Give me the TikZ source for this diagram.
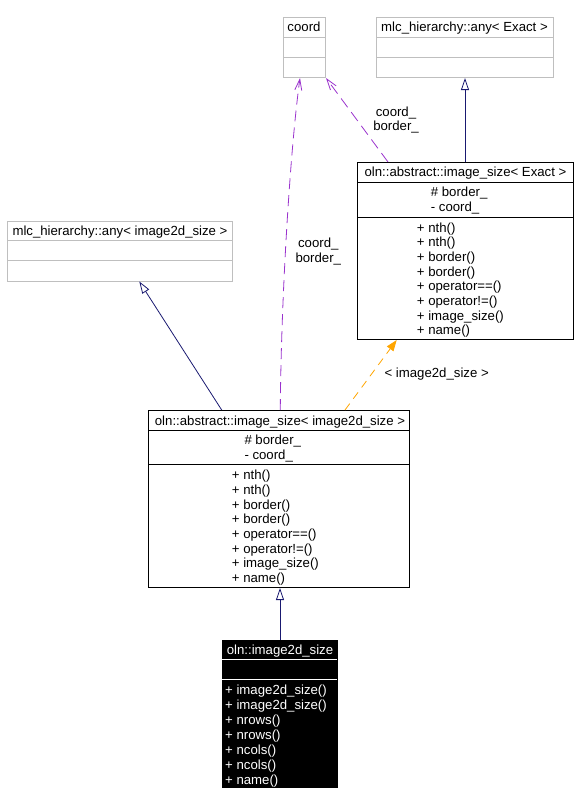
\documentclass[tikz,border=0pt]{standalone}
\usepackage{fontspec}
\setmainfont{Liberation Sans}
\usetikzlibrary{arrows.meta,calc}
\definecolor{gborder}{HTML}{BFBFBF}
\definecolor{navyc}{HTML}{191970}
\definecolor{purp}{HTML}{9A32CD}
\definecolor{orng}{HTML}{FFA500}
\tikzset{
  box/.style={draw, rectangle, anchor=north west, inner sep=0pt, line width=1pt},
  graybox/.style={box, draw=gborder},
  blackbox/.style={box, draw=black},
  darkbox/.style={box, fill=black, draw=black},
  txt/.style={inner sep=0pt, font=\fontsize{13.2}{14.6}\selectfont},
  ltxt/.style={txt, anchor=base west},
  ctxt/.style={txt, anchor=base},
  sepg/.style={draw=gborder, line width=1pt},
  sepk/.style={draw=black, line width=1pt},
  sepw/.style={draw=white, line width=1pt},
  inherit/.style={draw=navyc, line width=0.8pt, -{Triangle[open, length=12pt, width=8pt, fill=white]}},
  usage/.style={draw=purp, line width=0.8pt, dash pattern=on 11pt off 6pt, -{Straight Barb[length=11pt, width=7pt]}},
  templ/.style={draw=orng, line width=0.8pt, dash pattern=on 8pt off 6pt, -{Triangle[length=11pt, width=8pt]}},
}
\begin{document}
\begin{tikzpicture}[x=1pt,y=-1pt]
\useasboundingbox (0,0) rectangle (576,804);

% coord
\node[graybox, minimum width=42pt, minimum height=60pt] (coord) at (283,17) {};
\draw[sepg] (283,37) -- (325,37);
\draw[sepg] (283,57) -- (325,57);
\node[ctxt] (coordT) at (304,31.5) {coord};

% mlc_hierarchy::any< Exact >
\node[graybox, minimum width=177pt, minimum height=60pt] (anyE) at (376,17) {};
\draw[sepg] (376,37) -- (553,37);
\draw[sepg] (376,57) -- (553,57);
\node[ctxt] (anyET) at (464.5,31.5) {mlc\_hierarchy::any< Exact >};

% oln::abstract::image_size< Exact >
\node[blackbox, minimum width=216pt, minimum height=177pt] (isE) at (357,162) {};
\draw[sepk] (357,182) -- (573,182);
\draw[sepk] (357,217) -- (573,217);
\node[ctxt] (isET) at (465.5,176.5) {oln::abstract::image\_size< Exact >};
\foreach \t [count=\i] in {\# border\_, - coord\_}
  \node[ltxt] (isEa\i) at (430.7,{196.7+15*(\i-1)}) {\t};
\foreach \t [count=\i] in {+ nth(), + nth(), + border(), + border(), + operator==(), + operator!=(), + image\_size(), + name()}
  \node[ltxt] (isEm\i) at (416.7,{232.3+14.67*(\i-1)}) {\t};

% mlc_hierarchy::any< image2d_size >
\node[graybox, minimum width=225pt, minimum height=60pt] (any2d) at (7,220.5) {};
\draw[sepg] (7,240.5) -- (232,240.5);
\draw[sepg] (7,260.5) -- (232,260.5);
\node[ctxt] (any2dT) at (120,235.5) {mlc\_hierarchy::any< image2d\_size >};

% oln::abstract::image_size< image2d_size >
\node[blackbox, minimum width=261pt, minimum height=177pt] (is2d) at (148,410) {};
\draw[sepk] (148,430) -- (409,430);
\draw[sepk] (148,464.5) -- (409,464.5);
\node[ctxt] (is2dT) at (280,425) {oln::abstract::image\_size< image2d\_size >};
\foreach \t [count=\i] in {\# border\_, - coord\_}
  \node[ltxt] (is2da\i) at (244.3,{444.7+15*(\i-1)}) {\t};
\foreach \t [count=\i] in {+ nth(), + nth(), + border(), + border(), + operator==(), + operator!=(), + image\_size(), + name()}
  \node[ltxt] (is2dm\i) at (231.7,{479.7+14.7*(\i-1)}) {\t};

% oln::image2d_size
\node[darkbox, minimum width=115pt, minimum height=147pt] (i2d) at (222,640) {};
\draw[sepw] (222,659.5) -- (337,659.5);
\draw[sepw] (222,679.5) -- (337,679.5);
\node[ctxt, text=white] (i2dT) at (280,654.7) {oln::image2d\_size};
\foreach \t [count=\i] in {+ image2d\_size(), + image2d\_size(), + nrows(), + nrows(), + ncols(), + ncols(), + name()}
  \node[ltxt, text=white] (i2dm\i) at (225,{694+15*(\i-1)}) {\t};

% connectors
\draw[inherit] (i2d.north) -- (i2d.north |- is2d.south);
\draw[inherit] ($(is2d.north west)+(73.7,0)$) -- ($(any2d.south west)+(132.3,0)$);
\draw[inherit] (isE.north -| anyE.south) -- (anyE.south);
\draw[templ] ($(is2d.north west)+(197,0)$) -- ($(isE.south west)+(39.7,0)$);
\draw[usage] ($(is2d.north west)+(132.3,0)$) .. controls (281,300) and (290,150) .. ($(coord.south west)+(17,0)$);
\draw[usage] ($(isE.north west)+(31,0)$) -- (coord.south east);

% labels
\node[txt, align=center] (lab1) at (396,120) {coord\_\\border\_};
\node[txt, align=center] (lab2) at (318.3,251.3) {coord\_\\border\_};
\node[txt] (lab3) at (436.7,374.3) {< image2d\_size >};
\end{tikzpicture}
\end{document}
